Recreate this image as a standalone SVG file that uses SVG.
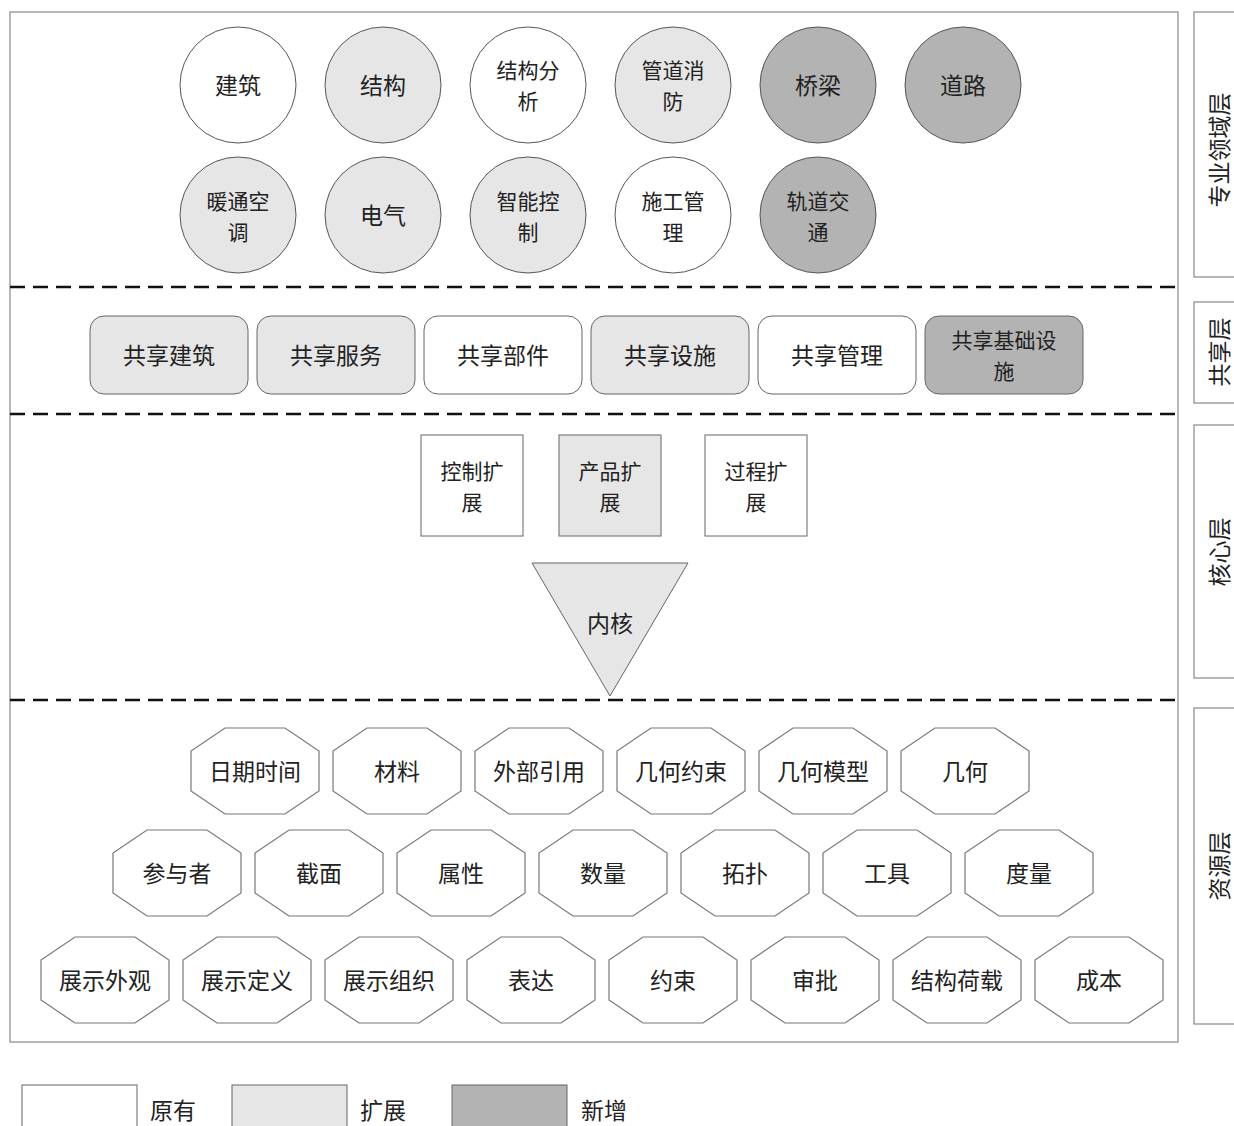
<svg xmlns="http://www.w3.org/2000/svg" width="1234" height="1126" viewBox="0 0 1234 1126">
<style>
text{font-family:"Noto Sans CJK SC","Noto Sans",sans-serif;font-size:23px;fill:#222;text-anchor:middle;dominant-baseline:central}
text.m{font-size:21px}
.c{stroke:#555;stroke-width:1}
.w{fill:#fff}
.l{fill:#e6e6e6}
.d{fill:#b3b3b3}
.r{stroke:#666;stroke-width:1}
.o{fill:#fff;stroke:#777;stroke-width:1.2}
.sep{stroke:#111;stroke-width:2.6;stroke-dasharray:15 8;fill:none}
.frame{fill:none;stroke:#888;stroke-width:1.2}
.lab{fill:#fff;stroke:#888;stroke-width:1.2}
.lt{text-anchor:start}
</style>
<defs>
<polygon id="oct" points="-30,-43 30,-43 64,-20 64,20 30,43 -30,43 -64,20 -64,-20"/>
</defs>
<rect width="1234" height="1126" fill="#fff"/>
<rect class="frame" x="10" y="12" width="1168" height="1030"/>

<g id="separators">
<line class="sep" x1="10" y1="287" x2="1180" y2="287"/>
<line class="sep" x1="10" y1="414" x2="1180" y2="414"/>
<line class="sep" x1="10" y1="700" x2="1180" y2="700"/>
</g>

<g id="layer-labels">
<g id="lab-domain"><rect class="lab" x="1194" y="12" width="60" height="265"/><text transform="translate(1218,150) rotate(-90)">专业领域层</text></g>
<g id="lab-shared"><rect class="lab" x="1194" y="302" width="60" height="101"/><text transform="translate(1218,352) rotate(-90)">共享层</text></g>
<g id="lab-core"><rect class="lab" x="1194" y="425" width="60" height="253"/><text transform="translate(1218,552) rotate(-90)">核心层</text></g>
<g id="lab-resource"><rect class="lab" x="1194" y="708" width="60" height="316"/><text transform="translate(1218,866) rotate(-90)">资源层</text></g>
</g>

<g id="domain">
<g id="n-jianzhu"><circle class="c w" cx="238" cy="85" r="58"/><text x="238" y="84">建筑</text></g>
<g id="n-jiegou"><circle class="c l" cx="383" cy="85" r="58"/><text x="383" y="84">结构</text></g>
<g id="n-jiegoufenxi"><circle class="c w" cx="528" cy="85" r="58"/><text class="m" x="528" y="69">结构分<tspan x="528" dy="31">析</tspan></text></g>
<g id="n-guandao"><circle class="c l" cx="673" cy="85" r="58"/><text class="m" x="673" y="69">管道消<tspan x="673" dy="31">防</tspan></text></g>
<g id="n-qiaoliang"><circle class="c d" cx="818" cy="85" r="58"/><text x="818" y="84">桥梁</text></g>
<g id="n-daolu"><circle class="c d" cx="963" cy="85" r="58"/><text x="963" y="84">道路</text></g>
<g id="n-nuantong"><circle class="c l" cx="238" cy="215" r="58"/><text class="m" x="238" y="200">暖通空<tspan x="238" dy="31">调</tspan></text></g>
<g id="n-dianqi"><circle class="c l" cx="383" cy="215" r="58"/><text x="383" y="214">电气</text></g>
<g id="n-zhineng"><circle class="c l" cx="528" cy="215" r="58"/><text class="m" x="528" y="200">智能控<tspan x="528" dy="31">制</tspan></text></g>
<g id="n-shigong"><circle class="c w" cx="673" cy="215" r="58"/><text class="m" x="673" y="200">施工管<tspan x="673" dy="31">理</tspan></text></g>
<g id="n-guidao"><circle class="c d" cx="818" cy="215" r="58"/><text class="m" x="818" y="200">轨道交<tspan x="818" dy="31">通</tspan></text></g>
</g>

<g id="shared">
<g id="s-jianzhu"><rect class="r l" x="90" y="316" width="158" height="78" rx="14"/><text x="169" y="354">共享建筑</text></g>
<g id="s-fuwu"><rect class="r l" x="257" y="316" width="158" height="78" rx="14"/><text x="336" y="354">共享服务</text></g>
<g id="s-bujian"><rect class="r w" x="424" y="316" width="158" height="78" rx="14"/><text x="503" y="354">共享部件</text></g>
<g id="s-sheshi"><rect class="r l" x="591" y="316" width="158" height="78" rx="14"/><text x="670" y="354">共享设施</text></g>
<g id="s-guanli"><rect class="r w" x="758" y="316" width="158" height="78" rx="14"/><text x="837" y="354">共享管理</text></g>
<g id="s-jichu"><rect class="r d" x="925" y="316" width="158" height="78" rx="14"/><text class="m" x="1004" y="339">共享基础设<tspan x="1004" dy="31">施</tspan></text></g>
</g>

<g id="core">
<g id="k-kongzhi"><rect class="r w" x="421" y="435" width="102" height="101"/><text class="m" x="472" y="470">控制扩<tspan x="472" dy="31">展</tspan></text></g>
<g id="k-chanpin"><rect class="r l" x="559" y="435" width="102" height="101"/><text class="m" x="610" y="470">产品扩<tspan x="610" dy="31">展</tspan></text></g>
<g id="k-guocheng"><rect class="r w" x="705" y="435" width="102" height="101"/><text class="m" x="756" y="470">过程扩<tspan x="756" dy="31">展</tspan></text></g>
<g id="k-neihe"><polygon class="r l" points="532,563 688,563 610,696"/><text x="610" y="622">内核</text></g>
</g>

<g id="resource">
<g id="r-riqi"><use href="#oct" class="o" x="255" y="771"/><text x="255" y="770">日期时间</text></g>
<g id="r-cailiao"><use href="#oct" class="o" x="397" y="771"/><text x="397" y="770">材料</text></g>
<g id="r-waibu"><use href="#oct" class="o" x="539" y="771"/><text x="539" y="770">外部引用</text></g>
<g id="r-jiheyueshu"><use href="#oct" class="o" x="681" y="771"/><text x="681" y="770">几何约束</text></g>
<g id="r-jihemoxing"><use href="#oct" class="o" x="823" y="771"/><text x="823" y="770">几何模型</text></g>
<g id="r-jihe"><use href="#oct" class="o" x="965" y="771"/><text x="965" y="770">几何</text></g>

<g id="r-canyuzhe"><use href="#oct" class="o" x="177" y="873"/><text x="177" y="872">参与者</text></g>
<g id="r-jiemian"><use href="#oct" class="o" x="319" y="873"/><text x="319" y="872">截面</text></g>
<g id="r-shuxing"><use href="#oct" class="o" x="461" y="873"/><text x="461" y="872">属性</text></g>
<g id="r-shuliang"><use href="#oct" class="o" x="603" y="873"/><text x="603" y="872">数量</text></g>
<g id="r-tuopu"><use href="#oct" class="o" x="745" y="873"/><text x="745" y="872">拓扑</text></g>
<g id="r-gongju"><use href="#oct" class="o" x="887" y="873"/><text x="887" y="872">工具</text></g>
<g id="r-duliang"><use href="#oct" class="o" x="1029" y="873"/><text x="1029" y="872">度量</text></g>

<g id="r-waiguan"><use href="#oct" class="o" x="105" y="980"/><text x="105" y="979">展示外观</text></g>
<g id="r-dingyi"><use href="#oct" class="o" x="247" y="980"/><text x="247" y="979">展示定义</text></g>
<g id="r-zuzhi"><use href="#oct" class="o" x="389" y="980"/><text x="389" y="979">展示组织</text></g>
<g id="r-biaoda"><use href="#oct" class="o" x="531" y="980"/><text x="531" y="979">表达</text></g>
<g id="r-yueshu"><use href="#oct" class="o" x="673" y="980"/><text x="673" y="979">约束</text></g>
<g id="r-shenpi"><use href="#oct" class="o" x="815" y="980"/><text x="815" y="979">审批</text></g>
<g id="r-hezai"><use href="#oct" class="o" x="957" y="980"/><text x="957" y="979">结构荷载</text></g>
<g id="r-chengben"><use href="#oct" class="o" x="1099" y="980"/><text x="1099" y="979">成本</text></g>
</g>

<g id="legend">
<g id="lg-yuanyou"><rect class="r w" x="22" y="1085" width="115" height="50"/><text class="lt" x="150" y="1109">原有</text></g>
<g id="lg-kuozhan"><rect class="r l" x="232" y="1085" width="115" height="50"/><text class="lt" x="360" y="1109">扩展</text></g>
<g id="lg-xinzeng"><rect class="r d" x="452" y="1085" width="115" height="50"/><text class="lt" x="581" y="1109">新增</text></g>
</g>
</svg>
